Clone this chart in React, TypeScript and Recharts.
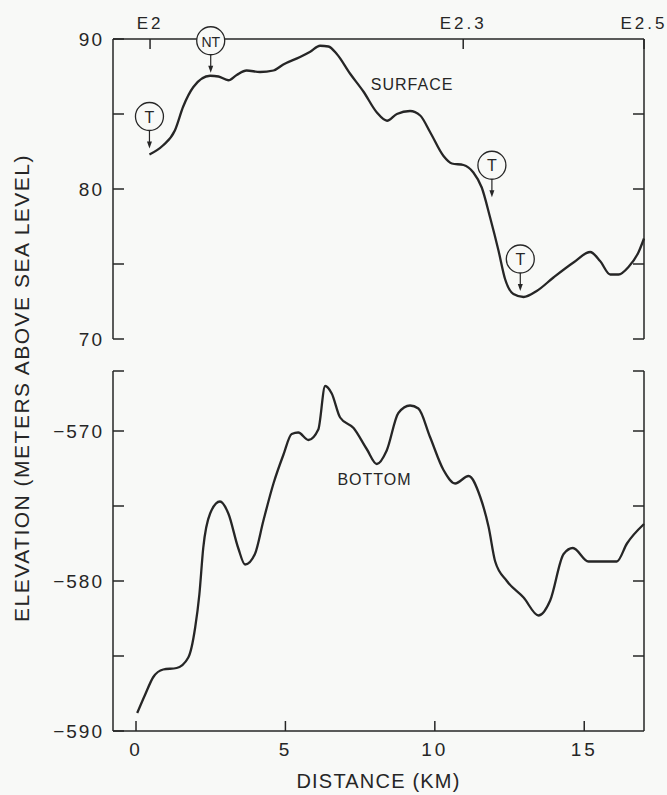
import React from 'react';
import { LineChart, Line, XAxis, YAxis, ReferenceDot } from 'recharts';

// surface profile (km, m a.s.l.)
const surfaceKm = [0.45, 0.9, 1.3, 1.58, 1.92, 2.48, 2.76, 3.09, 3.37, 3.7, 4.15, 4.6, 4.93, 5.49, 5.83, 6.16, 6.44, 6.72, 7.16, 7.61, 8.06, 8.4, 8.73, 9.17, 9.51, 9.84, 10.29, 10.57, 10.96, 11.29, 11.57, 11.85, 12.13, 12.35, 12.63, 12.97, 13.41, 13.97, 14.64, 15.2, 15.53, 15.87, 16.15, 16.48, 16.82, 17.0];
const surfaceElev = [82.3, 82.9, 83.9, 85.5, 86.8, 87.55, 87.5, 87.25, 87.6, 87.9, 87.8, 87.9, 88.3, 88.8, 89.15, 89.55, 89.5, 89.0, 87.7, 86.5, 85.1, 84.55, 85.0, 85.2, 84.9, 83.8, 82.2, 81.7, 81.6, 81.1, 80.1, 78.1, 75.9, 74.0, 73.0, 72.8, 73.2, 74.1, 75.1, 75.8, 75.2, 74.3, 74.3, 74.8, 75.8, 76.7];

// bed profile
const bottomKm = [0.04, 0.3, 0.58, 0.91, 1.36, 1.75, 1.98, 2.12, 2.25, 2.48, 2.81, 3.09, 3.42, 3.65, 3.98, 4.26, 4.6, 4.93, 5.21, 5.43, 5.77, 6.1, 6.33, 6.55, 6.83, 7.28, 7.72, 8.06, 8.39, 8.78, 9.17, 9.45, 9.84, 10.29, 10.68, 11.13, 11.52, 11.8, 12.02, 12.41, 12.97, 13.47, 13.86, 14.31, 14.62, 15.14, 16.09, 16.43, 17.0];
const bottomElev = [-588.8, -587.6, -586.4, -585.9, -585.8, -585.1, -583.1, -580.9, -577.8, -575.5, -574.7, -575.5, -577.8, -578.9, -578.2, -576.0, -573.5, -571.6, -570.2, -570.1, -570.6, -569.9, -567.0, -567.5, -569.1, -569.8, -571.2, -572.2, -571.3, -568.8, -568.3, -568.5, -570.4, -572.6, -573.5, -573.0, -574.4, -576.4, -578.7, -580.0, -581.1, -582.3, -581.3, -578.2, -577.8, -578.7, -578.7, -577.5, -576.2];

const stationLabels = ['E2', 'E2.3', 'E2.5'];
const stationKm = [0.47, 10.95, 17];

const markerLabels = ['T', 'NT', 'T', 'T'];
const markerKm = [0.45, 2.5, 11.91, 12.86];
const markerElev = [82.7, 87.75, 79.45, 73.2];

const surfaceTicks = [70, 75, 80, 85, 90];
const surfaceRightTicks = [70, 75, 80, 85];
const bottomTicks = [-590, -585, -580, -575, -570, -566];
const bottomRightTicks = [-585, -580, -575, -570, -566];
const distanceTicks = [0, 5, 10, 15];

const surfaceData = surfaceKm.map((km, i) => ({ km, elev: surfaceElev[i] }));
const bottomData = bottomKm.map((km, i) => ({ km, elev: bottomElev[i] }));

const INK = '#262626';
const BG = '#f8f9f7';
const FONT = '"Liberation Sans", Arial, sans-serif';
const X_DOMAIN = [-0.77, 17];

const fmtMinus = (v: number) => (v < 0 ? '\u2212' + Math.abs(v) : String(v));

const LeftTick = (props: any) => {
  const { x, y, payload } = props;
  const v = payload.value;
  const showLabel = v % 10 === 0;
  return (
    <g>
      <line x1={x} y1={y} x2={x + 11} y2={y} stroke={INK} strokeWidth={1.5} />
      {showLabel && (
        <text x={x - 9} y={y + 7} textAnchor="end" fontSize={19} fill={INK} fontFamily={FONT} style={{ letterSpacing: 2 }}>
          {fmtMinus(v)}
        </text>
      )}
    </g>
  );
};

const RightTick = (props: any) => {
  const { x, y } = props;
  return <line x1={x - 11} y1={y} x2={x} y2={y} stroke={INK} strokeWidth={1.5} />;
};

const StationTick = (props: any) => {
  const { x, y, payload } = props;
  const i = stationKm.indexOf(payload.value);
  return (
    <g>
      <line x1={x} y1={y} x2={x} y2={y + 10} stroke={INK} strokeWidth={1.5} />
      <text x={x} y={y - 10} textAnchor="middle" fontSize={17} fill={INK} fontFamily={FONT} style={{ letterSpacing: 3 }}>
        {stationLabels[i]}
      </text>
    </g>
  );
};

const DistanceTick = (props: any) => {
  const { x, y, payload } = props;
  return (
    <g>
      <line x1={x} y1={y} x2={x} y2={y - 10} stroke={INK} strokeWidth={1.5} />
      <text x={x} y={y + 25} textAnchor="middle" fontSize={19} fill={INK} fontFamily={FONT} style={{ letterSpacing: 3 }}>
        {payload.value}
      </text>
    </g>
  );
};

const Marker = (props: any) => {
  const { cx, cy, label } = props;
  const stem = 18;
  const r = 14;
  const c = cy - stem - r;
  return (
    <g>
      <line x1={cx} y1={cy - stem} x2={cx} y2={cy - 5} stroke={INK} strokeWidth={1.2} />
      <path d={`M${cx - 2.5},${cy - 7} L${cx + 2.5},${cy - 7} L${cx},${cy} Z`} fill={INK} />
      <circle cx={cx} cy={c} r={r} fill={BG} stroke={INK} strokeWidth={1.3} />
      <text x={cx} y={c + 6} textAnchor="middle" fontSize={label.length > 1 ? 14 : 16} fill={INK} fontFamily={FONT}>
        {label}
      </text>
    </g>
  );
};

const CurveLabel = (props: any) => {
  const { cx, cy, text } = props;
  return (
    <text x={cx} y={cy + 6} textAnchor="middle" fontSize={16} fill={INK} fontFamily={FONT} style={{ letterSpacing: 1 }}>
      {text}
    </text>
  );
};

export default function App() {
  return (
    <div style={{ position: 'absolute', left: 0, top: 0, width: 667, height: 795, background: BG, overflow: 'hidden', fontFamily: FONT }}>
      <div style={{ position: 'absolute', left: 0, top: 0 }}>
        <LineChart width={667} height={360} data={surfaceData} margin={{ top: 9, right: 13, bottom: 21, left: 53 }}>
          <XAxis
            xAxisId="top"
            orientation="top"
            type="number"
            dataKey="km"
            domain={X_DOMAIN}
            ticks={stationKm}
            interval={0}
            height={30}
            tickSize={0}
            tickMargin={0}
            tickLine={false}
            tick={StationTick}
            axisLine={{ stroke: INK, strokeWidth: 1.5 }}
          />
          <YAxis
            yAxisId="left"
            domain={[70, 90]}
            ticks={surfaceTicks}
            interval={0}
            width={60}
            tickSize={0}
            tickMargin={0}
            tickLine={false}
            tick={LeftTick}
            axisLine={{ stroke: INK, strokeWidth: 1.5 }}
          />
          <YAxis
            yAxisId="right"
            orientation="right"
            domain={[70, 90]}
            ticks={surfaceRightTicks}
            interval={0}
            width={10}
            tickSize={0}
            tickMargin={0}
            tickLine={false}
            tick={RightTick}
            axisLine={{ stroke: INK, strokeWidth: 1.5 }}
          />
          {/* invisible twin so the right axis has a series bound to it */}
          <Line xAxisId="top" yAxisId="right" dataKey="elev" stroke="none" dot={false} activeDot={false} legendType="none" isAnimationActive={false} />
          <Line
            xAxisId="top"
            yAxisId="left"
            type="monotone"
            dataKey="elev"
            stroke={INK}
            strokeWidth={2.3}
            dot={false}
            isAnimationActive={false}
          />
          <ReferenceDot
            xAxisId="top"
            yAxisId="left"
            x={9.24}
            y={87.0}
            r={0}
            ifOverflow="visible"
            shape={(p: any) => <CurveLabel {...p} text="SURFACE" />}
          />
          {markerKm.map((km, i) => (
            <ReferenceDot
              key={i}
              xAxisId="top"
              yAxisId="left"
              x={km}
              y={markerElev[i]}
              r={0}
              ifOverflow="visible"
              shape={(p: any) => <Marker {...p} label={markerLabels[i]} />}
            />
          ))}
        </LineChart>
      </div>

      <div style={{ position: 'absolute', left: 0, top: 340 }}>
        <LineChart width={667} height={455} data={bottomData} margin={{ top: 31, right: 13, bottom: 24, left: 53 }}>
          <XAxis
            type="number"
            dataKey="km"
            domain={X_DOMAIN}
            ticks={distanceTicks}
            interval={0}
            height={40}
            tickSize={0}
            tickMargin={0}
            tickLine={false}
            tick={DistanceTick}
            axisLine={{ stroke: INK, strokeWidth: 1.5 }}
            label={{ value: 'DISTANCE (KM)', position: 'bottom', offset: 3, fontSize: 20, fill: INK, fontFamily: FONT, style: { letterSpacing: 1.2 } }}
          />
          <YAxis
            yAxisId="left"
            domain={[-590, -566]}
            ticks={bottomTicks}
            interval={0}
            width={60}
            tickSize={0}
            tickMargin={0}
            tickLine={false}
            tick={LeftTick}
            axisLine={{ stroke: INK, strokeWidth: 1.5 }}
          />
          <YAxis
            yAxisId="right"
            orientation="right"
            domain={[-590, -566]}
            ticks={bottomRightTicks}
            interval={0}
            width={10}
            tickSize={0}
            tickMargin={0}
            tickLine={false}
            tick={RightTick}
            axisLine={{ stroke: INK, strokeWidth: 1.5 }}
          />
          <Line yAxisId="right" dataKey="elev" stroke="none" dot={false} activeDot={false} legendType="none" isAnimationActive={false} />
          <Line
            yAxisId="left"
            type="monotone"
            dataKey="elev"
            stroke={INK}
            strokeWidth={2.3}
            dot={false}
            isAnimationActive={false}
          />
          <ReferenceDot
            yAxisId="left"
            x={7.98}
            y={-573.2}
            r={0}
            ifOverflow="visible"
            shape={(p: any) => <CurveLabel {...p} text="BOTTOM" />}
          />
        </LineChart>
      </div>

      <div
        style={{
          position: 'absolute',
          left: 21,
          top: 388,
          transform: 'translate(-50%, -50%) rotate(-90deg)',
          whiteSpace: 'nowrap',
          fontSize: 21,
          lineHeight: 1,
          letterSpacing: 1.5,
          color: INK,
        }}
      >
        ELEVATION (METERS ABOVE SEA LEVEL)
      </div>
    </div>
  );
}
